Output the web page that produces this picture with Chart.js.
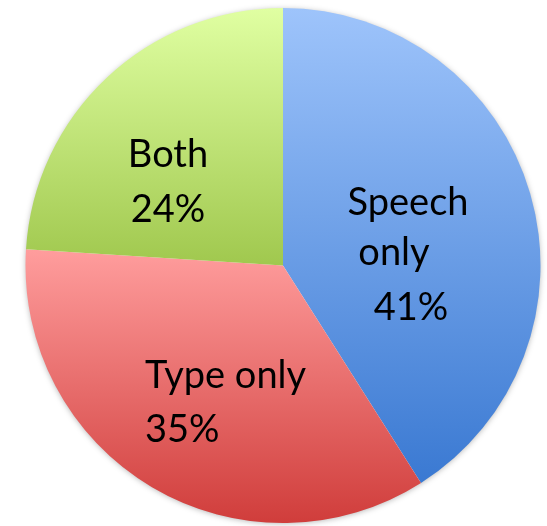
<!DOCTYPE html>
<html>
<head>
<meta charset="utf-8">
<script src="https://cdn.jsdelivr.net/npm/chart.js@4/dist/chart.umd.min.js"></script>
<style>
  html, body { margin: 0; padding: 0; background: #fff; }
  #wrap { width: 547px; height: 526px; }
</style>
</head>
<body>
<div id="wrap"><canvas id="pie" width="547" height="526"></canvas></div>
<script>
// --- data ---
const categories = ['Speech only', 'Type only', 'Both'];
const shares = [41, 35, 24];

// label lines drawn inside each slice
const labelLines = [
  ['Speech', 'only', '41%'],
  ['Type only', '35%'],
  ['Both', '24%']
];

// vertical gradient stops per slice (top -> bottom)
const sliceGradients = [
  ['#9ec4fb', '#3a79d2'],
  ['#ff9d9d', '#d03d3b'],
  ['#e0ffa2', '#a0c84e']
];

// where each text line sits: [x, baseline y, align]
const labelPos = [
  [[408, 215, 'center'], [394, 265, 'center'], [411, 320, 'center']],
  [[145, 388, 'left'], [145, 442, 'left']],
  [[168, 167, 'center'], [168, 222, 'center']]
];

const FONT = '38px Lato, "Open Sans", sans-serif';

// fill each arc with a gradient spanning its own vertical extent
const gradientFill = {
  id: 'gradientFill',
  beforeDatasetsDraw(chart) {
    const ctx = chart.ctx;
    const meta = chart.getDatasetMeta(0);
    meta.data.forEach((arc, i) => {
      const { x, y, startAngle, endAngle, outerRadius } = arc.getProps(['x', 'y', 'startAngle', 'endAngle', 'outerRadius'], true);
      const ys = [y, y + outerRadius * Math.sin(startAngle), y + outerRadius * Math.sin(endAngle)];
      // check top (-PI/2) and bottom (PI/2) extremes inside the arc
      [-Math.PI / 2, Math.PI / 2, 3 * Math.PI / 2].forEach(a => {
        if (a > startAngle && a < endAngle) ys.push(y + outerRadius * Math.sin(a));
      });
      const top = Math.min(...ys), bot = Math.max(...ys);
      const g = ctx.createLinearGradient(0, top, 0, bot);
      g.addColorStop(0, sliceGradients[i][0]);
      g.addColorStop(1, sliceGradients[i][1]);
      arc.options.backgroundColor = g;
    });

    // soft shadow behind the whole pie
    const a0 = meta.data[0];
    ctx.save();
    ctx.shadowColor = 'rgba(0,0,0,0.35)';
    ctx.shadowBlur = 6;
    ctx.shadowOffsetX = 0;
    ctx.shadowOffsetY = 1;
    ctx.fillStyle = '#fff';
    ctx.beginPath();
    ctx.arc(a0.x, a0.y, a0.outerRadius - 1, 0, Math.PI * 2);
    ctx.fill();
    ctx.restore();
  }
};

const sliceLabels = {
  id: 'sliceLabels',
  afterDatasetsDraw(chart) {
    const ctx = chart.ctx;
    ctx.save();
    ctx.font = FONT;
    ctx.fillStyle = '#000';
    ctx.textBaseline = 'alphabetic';
    labelLines.forEach((lines, i) => {
      lines.forEach((txt, j) => {
        const [x, y, align] = labelPos[i][j];
        ctx.textAlign = align;
        ctx.fillText(txt, x, y);
      });
    });
    ctx.restore();
  }
};

new Chart(document.getElementById('pie'), {
  type: 'pie',
  data: {
    labels: categories,
    datasets: [{
      data: shares,
      backgroundColor: sliceGradients.map(s => s[0]),
      borderWidth: 0,
      hoverOffset: 0,
      hoverBorderWidth: 0
    }]
  },
  options: {
    responsive: false,
    animation: false,
    layout: { padding: { left: 25, right: 6, top: 8, bottom: 3 } },
    plugins: {
      legend: { display: false },
      tooltip: { enabled: false }
    }
  },
  plugins: [gradientFill, sliceLabels]
});
</script>
</body>
</html>
